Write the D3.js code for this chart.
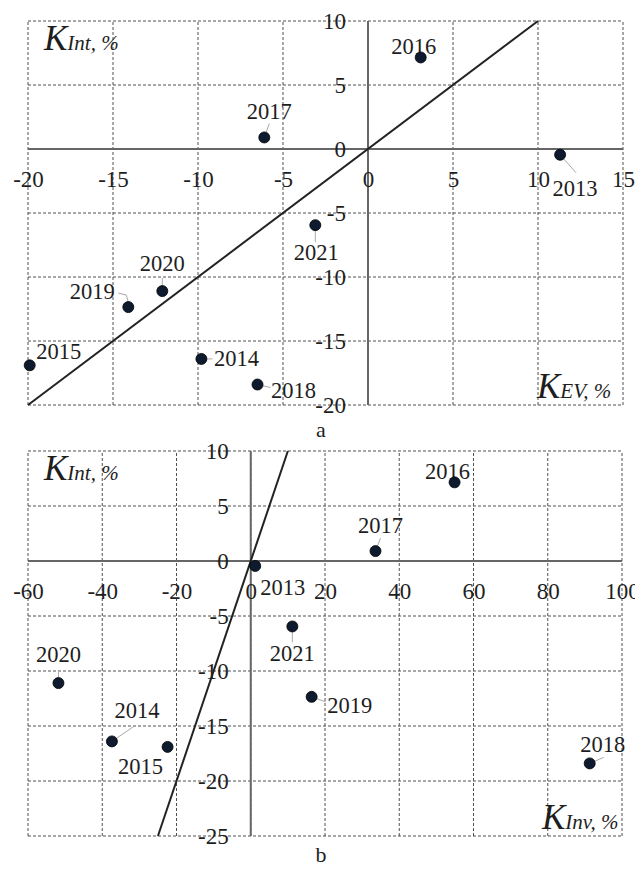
<!DOCTYPE html>
<html>
<head>
<meta charset="utf-8">
<script src="https://cdn.jsdelivr.net/npm/d3@7"></script>
<style>
  html, body { margin: 0; padding: 0; background: #fff; }
  svg { display: block; }
  text { font-family: "Liberation Serif", "Times New Roman", Times, serif; fill: #1e1e1e; }
</style>
</head>
<body>
<svg id="chart" width="635" height="870"></svg>
<script>
// Years and the three indicators (per cent)
const years = [2013, 2014, 2015, 2016, 2017, 2018, 2019, 2020, 2021];
const kInt  = [-0.45, -16.4, -16.9, 7.15, 0.9, -18.4, -12.35, -11.1, -5.95];
const kEV   = [11.3, -9.8, -19.9, 3.1, -6.1, -6.5, -14.1, -12.1, -3.1];
const kInv  = [1.2, -37.4, -22.4, 54.9, 33.6, 91.3, 16.4, -51.8, 11.2];

// Axis ticks
const xTicksA = [-20, -15, -10, -5, 0, 5, 10, 15];
const yTicksA = [10, 5, 0, -5, -10, -15, -20];
const xTicksB = [-60, -40, -20, 0, 20, 40, 60, 80, 100];
const yTicksB = [10, 5, 0, -5, -10, -15, -20, -25];

// Reference line y = x, drawn between these end values
const diagA = [-20, 10];
const diagB = [-25, 10];

// Year label placement: [dx, dy, leader end dx, leader end dy] (leader optional)
const labelLayoutA = {
  2013: [15, 41, 16, 18], 2014: [35, 7, 11, 0], 2015: [29, -6],
  2016: [-7, -3], 2017: [5, -18, 5, -14], 2018: [36, 13, 13, 3],
  2019: [-36, -8, [[-2, -12], [-10, -14]]], 2020: [0, -20, 0, -13], 2021: [1, 35, 0, 17]
};
const labelLayoutB = {
  2013: [27.5, 29], 2014: [25, -23, 22, -15], 2015: [-27, 27],
  2016: [-7, -3], 2017: [5, -18, 5, -13], 2018: [13, -11, 14, -6],
  2019: [38, 16, 14, 5], 2020: [0, -21, 0, -13], 2021: [0, 35, 0, 16]
};

const svg = d3.select("#chart");

function panel(opts) {
  const x = d3.scaleLinear().domain(opts.xDomain).range(opts.xRange);
  const y = d3.scaleLinear().domain(opts.yDomain).range(opts.yRange);
  const g = svg.append("g");

  // dashed grid
  g.append("g").selectAll("line").data(opts.xTicks).join("line")
    .attr("x1", d => x(d)).attr("x2", d => x(d))
    .attr("y1", y.range()[0]).attr("y2", y.range()[1])
    .attr("stroke", "#505050").attr("stroke-width", 1).attr("stroke-dasharray", "3,2");
  g.append("g").selectAll("line").data(opts.yTicks).join("line")
    .attr("y1", d => y(d)).attr("y2", d => y(d))
    .attr("x1", x.range()[0]).attr("x2", x.range()[1])
    .attr("stroke", "#505050").attr("stroke-width", 1).attr("stroke-dasharray", "3,2");

  // zero axes
  g.append("line").attr("x1", x.range()[0]).attr("x2", x.range()[1])
    .attr("y1", y(0)).attr("y2", y(0)).attr("stroke", "#666").attr("stroke-width", 2);
  g.append("line").attr("x1", x(0)).attr("x2", x(0))
    .attr("y1", y.range()[0]).attr("y2", y.range()[1]).attr("stroke", "#666").attr("stroke-width", 2);

  // tick labels through d3 axes sitting on the zero lines
  const xa = g.append("g").attr("transform", `translate(0,${y(0)})`)
    .call(d3.axisBottom(x).tickValues(opts.xTicks).tickSize(0).tickPadding(22).tickFormat(d3.format("d")));
  const ya = g.append("g").attr("transform", `translate(${x(0)},0)`)
    .call(d3.axisLeft(y).tickValues(opts.yTicks).tickSize(0).tickPadding(22).tickFormat(d3.format("d")));
  [xa, ya].forEach(a => {
    a.attr("font-family", null);
    a.select(".domain").remove();
    a.selectAll("text").attr("font-size", 23).attr("fill", "#1e1e1e")
      .text(d => d < 0 ? "-" + Math.abs(d) : d);
  });

  // y = x line
  g.append("line")
    .attr("x1", x(opts.diag[0])).attr("y1", y(opts.diag[0]))
    .attr("x2", x(opts.diag[1])).attr("y2", y(opts.diag[1]))
    .attr("stroke", "#222").attr("stroke-width", 2);

  const pts = years.map((yr, i) => ({ yr, px: x(opts.xs[i]), py: y(kInt[i]), lay: opts.layout[yr] }));

  // leader lines
  pts.forEach(p => {
    const L = p.lay;
    if (Array.isArray(L[2])) {
      const path = [[p.px, p.py - 5]].concat(L[2].map(q => [p.px + q[0], p.py + q[1]]));
      g.append("path").attr("d", d3.line()(path)).attr("fill", "none")
        .attr("stroke", "#aaa").attr("stroke-width", 1);
    } else if (L.length > 2) {
      const len = Math.hypot(L[2], L[3]);
      g.append("line")
        .attr("x1", p.px + L[2] / len * 5).attr("y1", p.py + L[3] / len * 5)
        .attr("x2", p.px + L[2]).attr("y2", p.py + L[3])
        .attr("stroke", "#aaa").attr("stroke-width", 1);
    }
  });

  // year labels
  g.append("g").selectAll("text").data(pts).join("text")
    .attr("x", d => d.px + d.lay[0]).attr("y", d => d.py + d.lay[1])
    .attr("text-anchor", "middle").attr("font-size", 22.5)
    .text(d => d.yr);

  // points
  g.append("g").selectAll("circle").data(pts).join("circle")
    .attr("cx", d => d.px).attr("cy", d => d.py).attr("r", 5.5)
    .attr("fill", "#0e1a2e").attr("stroke", "#000").attr("stroke-width", 0.8);

  // axis captions
  const cap = (tx, ty, sub) => {
    const t = g.append("text").attr("x", tx).attr("y", ty).attr("font-style", "italic");
    t.append("tspan").attr("font-size", 35).text("K");
    t.append("tspan").attr("font-size", 21).text(sub + ", %");
  };
  cap(44, opts.yRange[1] + 29, "Int");
  cap(opts.xCapX, opts.yRange[0] - 7, opts.xSub);

  // panel letter
  g.append("text").attr("x", 321).attr("y", opts.letterY)
    .attr("text-anchor", "middle").attr("font-size", 22).text(opts.letter);
}

panel({
  xDomain: [-20, 15], xRange: [28, 623],
  yDomain: [-20, 10], yRange: [405, 21],
  xTicks: xTicksA, yTicks: yTicksA, xs: kEV, diag: diagA,
  layout: labelLayoutA, xSub: "EV", xCapX: 537, letter: "a", letterY: 437
});

panel({
  xDomain: [-60, 100], xRange: [28, 622],
  yDomain: [-25, 10], yRange: [836, 451],
  xTicks: xTicksB, yTicks: yTicksB, xs: kInv, diag: diagB,
  layout: labelLayoutB, xSub: "Inv", xCapX: 542, letter: "b", letterY: 862
});
</script>
</body>
</html>
